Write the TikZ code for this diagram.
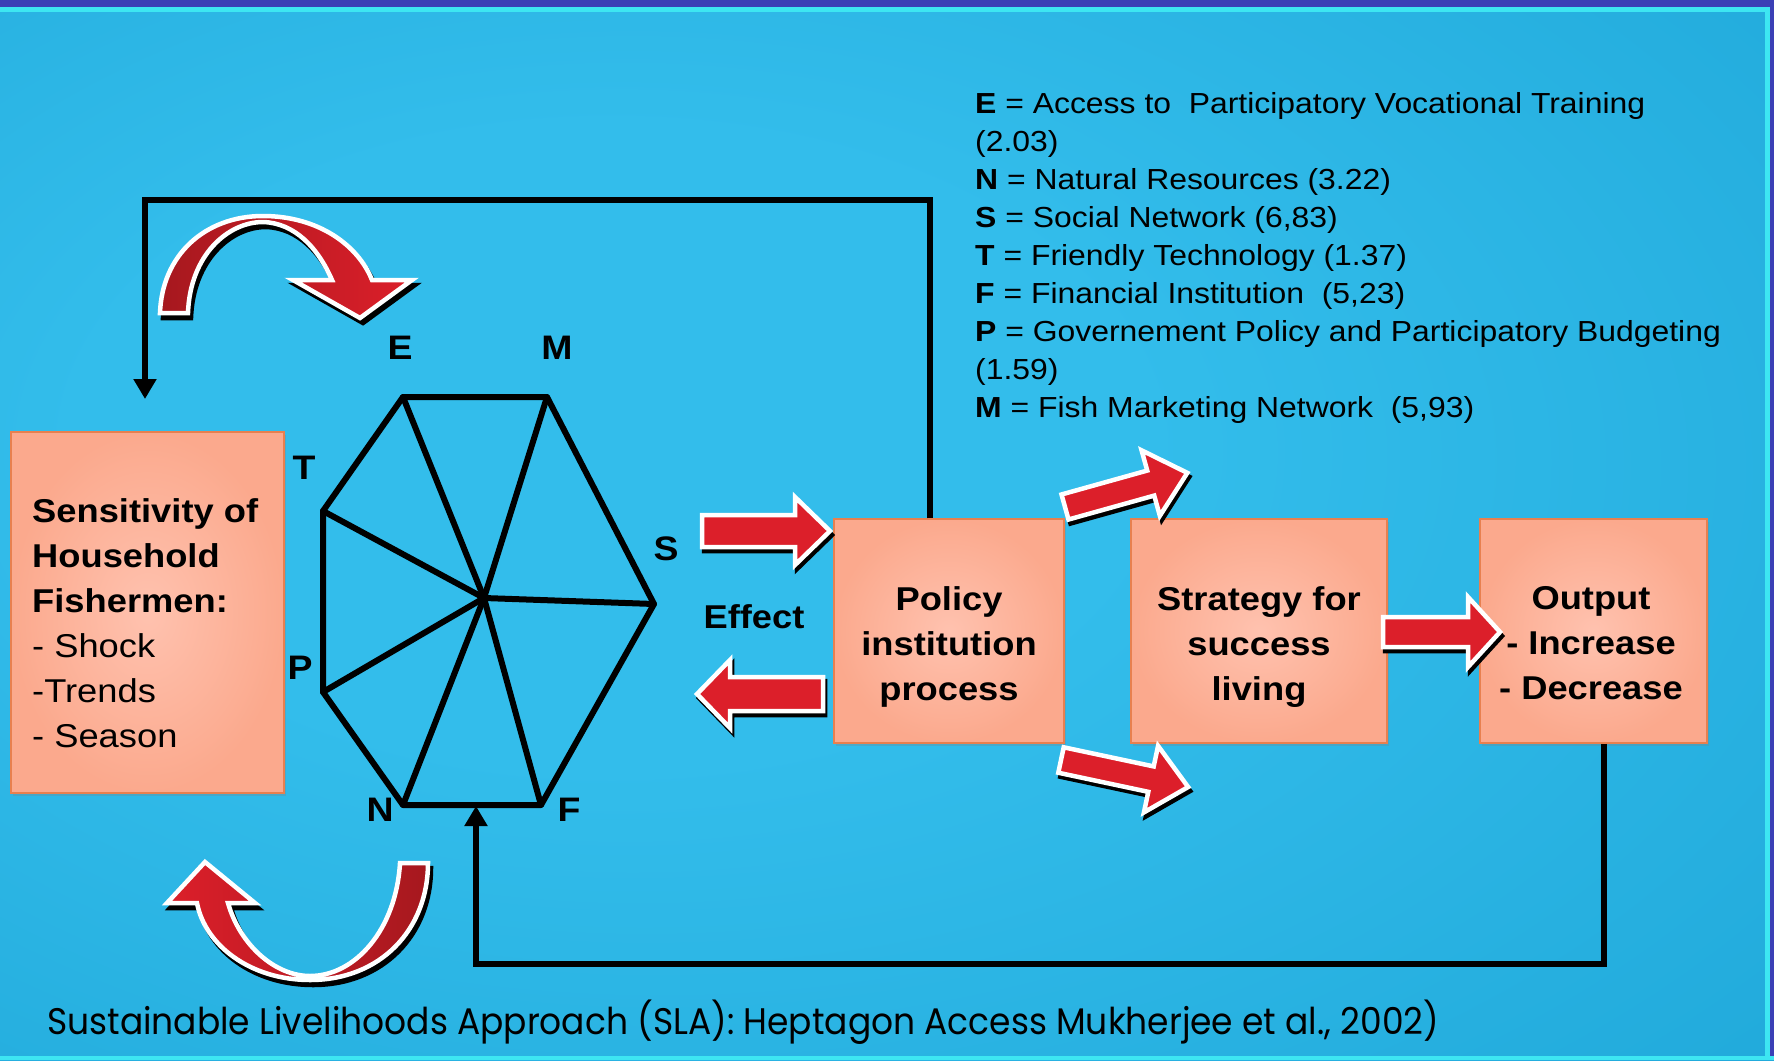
\documentclass[tikz,border=0pt]{standalone}
\usepackage{fontspec}
\setmainfont{Liberation Sans}[FakeStretch=1.1]
\newfontfamily\citefont{Poppins}
\usetikzlibrary{arrows.meta,calc,shadows}
\definecolor{bglight}{HTML}{33BDEB}
\definecolor{bgmid}{HTML}{20A9DA}
\definecolor{bgdark}{HTML}{1597C7}
\definecolor{topbar}{HTML}{3B40B6}
\definecolor{cyanline}{HTML}{3DE6F2}
\definecolor{boxin}{HTML}{FFC2AF}
\definecolor{boxout}{HTML}{FBA98D}
\definecolor{boxedge}{HTML}{E8804F}
\definecolor{arrowred}{HTML}{DC1F2A}
\definecolor{darkred}{HTML}{A6181E}
\pgfdeclareradialshading{bgshade}{\pgfpoint{-10bp}{5bp}}{color(0bp)=(bglight); color(15bp)=(bglight); color(42bp)=(bgmid); color(70bp)=(bgdark)}
\newcommand\blockarrow[7]{% x, y, angle, length, body half, head half, head length
  \begin{scope}[shift={(#1+2,#2+4)}, rotate=#3]
    \filldraw[arshadow] (0,-#5) -- (#4-#7,-#5) -- (#4-#7,-#6) -- (#4,0) -- (#4-#7,#6) -- (#4-#7,#5) -- (0,#5) -- cycle;
  \end{scope}
  \begin{scope}[shift={(#1,#2)}, rotate=#3]
    \filldraw[arbody] (0,-#5) -- (#4-#7,-#5) -- (#4-#7,-#6) -- (#4,0) -- (#4-#7,#6) -- (#4-#7,#5) -- (0,#5) -- cycle;
  \end{scope}}
\begin{document}
\begin{tikzpicture}[x=1pt,y=-1pt,
  box/.style={draw=boxedge, line width=1.5pt, inner color=boxin, outer color=boxout,
    drop shadow={opacity=0.3, shadow xshift=2pt, shadow yshift=-3pt}},
  btext/.style={font=\fontsize{33}{45}\selectfont\bfseries, align=center, inner sep=0pt},
  conn/.style={line width=6pt},
  hept/.style={line width=6pt, line join=round, line cap=round},
  vlabel/.style={font=\fontsize{34}{40}\selectfont\bfseries, inner sep=0pt},
  arshadow/.style={draw=black, fill=black, line width=4.5pt},
  arbody/.style={draw=white, fill=arrowred, line width=4.5pt},
  toparc/.style={insert path={(160,313) .. controls (162,255) and (205,216) .. (263,216)
     .. controls (318,216) and (358,245) .. (372,280) -- (412,280) -- (360,318) -- (293,280) -- (332,280)
     .. controls (318,248) and (295,223) .. (263,222) .. controls (228,222) and (190,255) .. (188,313) -- cycle}},
  botarc/.style={insert path={(428,863) .. controls (428,930) and (380,980) .. (310,980)
     .. controls (250,980) and (205,945) .. (197,903) -- (167,903) -- (205,862) -- (255,903) -- (228,903)
     .. controls (240,945) and (275,976) .. (310,976) .. controls (355,976) and (396,930) .. (400,863) -- cycle}}
]
\useasboundingbox (0,0) rectangle (1774,1060);
% background
\shade[shading=bgshade] (0,0) rectangle (1774,1060);
\fill[topbar] (0,0) rectangle (1774,7);
\fill[cyanline] (0,7) rectangle (1774,12);
\fill[cyanline] (1765,7) rectangle (1770,1060);
\fill[topbar] (1770,0) rectangle (1774,1060);
\fill[cyanline] (0,1056) rectangle (1774,1060);

% boxes
\node[box, minimum width=273pt, minimum height=361pt] (sens) at (147.5,612.5) {};
\node[box, minimum width=230pt, minimum height=224pt] (policy) at (949,631) {};
\node[box, minimum width=256pt, minimum height=224pt] (strategy) at (1259,631) {};
\node[box, minimum width=227pt, minimum height=224pt] (output) at (1593.5,631) {};

\node[btext, align=left, anchor=north west] (senstext) at (32,498)
  {Sensitivity of\\Household\\Fishermen:\\\mdseries - Shock\\\mdseries -Trends\\\mdseries - Season};
\node[btext, anchor=north] (policytext) at (949,586) {Policy\\institution\\process};
\node[btext, anchor=north] (strategytext) at (1259,586) {Strategy for\\success\\living};
\node[btext, anchor=north] (outputtext) at (1591,586) {Output\\- Increase\\- Decrease};

% heptagon
\coordinate (E) at (403,397);
\coordinate (M) at (547,397);
\coordinate (S) at (654,604);
\coordinate (F) at (541,805);
\coordinate (N) at (403,805);
\coordinate (P) at (323,692);
\coordinate (T) at (323,511);
\coordinate (C) at (484,598);
\draw[hept] (E) -- (M) -- (S) -- (F) -- (N) -- (P) -- (T) -- cycle;
\foreach \v in {E,M,S,F,N,P,T} \draw[hept] (C) -- (\v);

\node[vlabel] (lE) at (400,348) {E};
\node[vlabel] (lM) at (557,348) {M};
\node[vlabel] (lT) at (304,468) {T};
\node[vlabel] (lS) at (666,549) {S};
\node[vlabel] (lP) at (300,668) {P};
\node[vlabel] (lN) at (380,810) {N};
\node[vlabel] (lF) at (569,810) {F};

\node[btext] (effect) at (754,617) {Effect};

% connectors
\coordinate (tl) at (145,200);
\coordinate (ta) at (145,399);
\coordinate (bl) at (476,964);
\coordinate (ba) at (476,806);
\draw[conn, -{Triangle[length=20pt,width=22pt]}] ([xshift=-19pt]policy.north) |- (tl) -- (ta);
\draw[conn, -{Triangle[length=20pt,width=22pt]}] ([xshift=10pt]output.south) |- (bl) -- (ba);

% block arrows
\blockarrow{702}{531}{0}{128}{16}{34}{35}
\blockarrow{823}{694}{180}{126}{17}{34}{33}
\blockarrow{1065}{507}{15.6}{127}{13}{34}{38}
\blockarrow{1061}{760}{-12}{130}{13}{34}{38}
\blockarrow{1383}{632}{0}{117}{15}{35}{32}

% curved arrows
\filldraw[black, line width=4.5pt, shift={(3,5)}, toparc];
\path[draw=white, line width=4.5pt, left color=darkred, right color=arrowred, toparc];
\filldraw[black, line width=4.5pt, shift={(3,5)}, botarc];
\path[draw=white, line width=4.5pt, left color=arrowred, right color=darkred, botarc];

% legend
\node[anchor=north west, align=left, inner sep=0pt, font=\fontsize{29}{38}\selectfont] (legend) at (975,92)
 {\textbf{E} = Access to~ Participatory Vocational Training\\
  (2.03)\\
  \textbf{N} = Natural Resources (3.22)\\
  \textbf{S} = Social Network (6,83)\\
  \textbf{T} = Friendly Technology (1.37)\\
  \textbf{F} = Financial Institution~ (5,23)\\
  \textbf{P} = Governement Policy and Participatory Budgeting\\
  (1.59)\\
  \textbf{M} = Fish Marketing Network~ (5,93)};

% citation
\node[anchor=base west, inner sep=0pt] (cite) at (47,1034)
 {\resizebox{1392pt}{\height}{\citefont\fontsize{37}{40}\selectfont Sustainable Livelihoods Approach (SLA): Heptagon Access Mukherjee et al., 2002)}};
\end{tikzpicture}
\end{document}
